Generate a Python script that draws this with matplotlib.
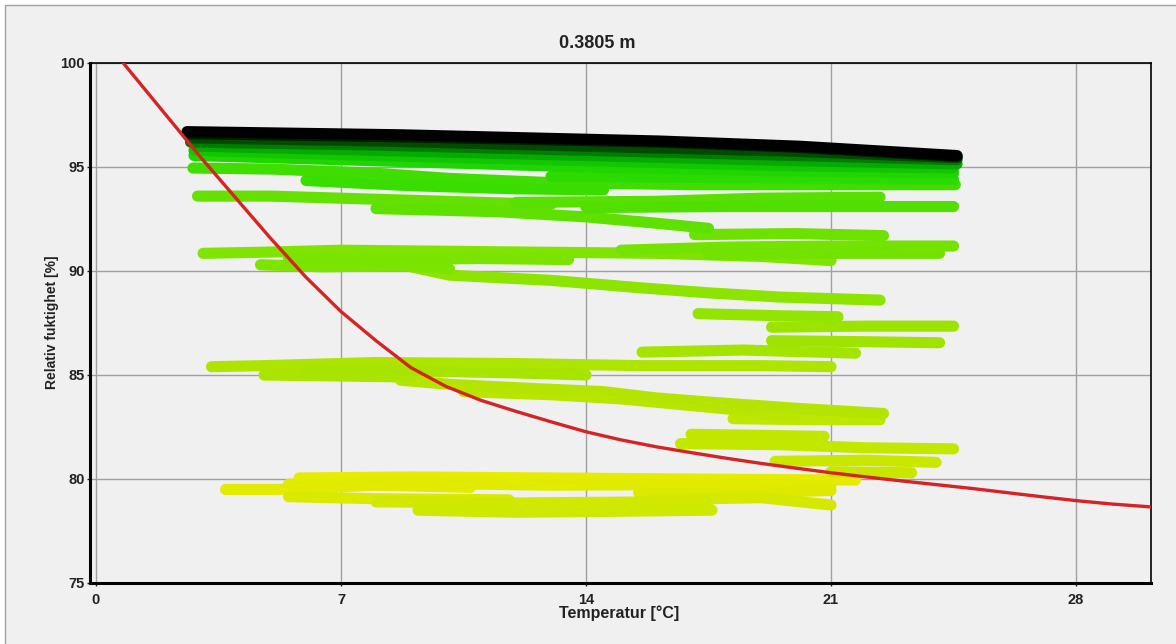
import matplotlib
matplotlib.use("Agg")
import matplotlib.pyplot as plt
from matplotlib.colors import LinearSegmentedColormap
from matplotlib.patches import Rectangle

plt.rcParams['font.family'] = ['Liberation Sans', 'DejaVu Sans']

# critical humidity curve
curve_T = [0.78, 2.0, 3.0, 4.0, 5.0, 6.0, 7.0, 8.0, 9.0, 10.0, 11.0, 12.0, 13.0,
           14.0, 15.0, 16.0, 17.0, 18.0, 19.0, 20.0, 21.0, 22.0, 23.0, 24.0,
           25.0, 26.0, 27.0, 28.0, 29.0, 30.2]
curve_RH = [100.0, 97.5, 95.45, 93.5, 91.55, 89.7, 88.05, 86.65, 85.35, 84.45,
            83.78, 83.25, 82.75, 82.27, 81.88, 81.55, 81.27, 81.0, 80.75, 80.52,
            80.3, 80.1, 79.91, 79.73, 79.55, 79.35, 79.15, 78.96, 78.8, 78.65]

# measured (temperature, RH) tracks in time order; age 0 = first, 1 = last
track_T = [
    [5.8, 9.0, 13.0, 17.0, 21.7],
    [3.7, 5.2, 8.0, 10.7],
    [5.5, 9.0, 13.0, 18.5, 21.0],
    [15.5, 18.0, 21.0],
    [5.5, 8.0, 11.8],
    [15.8, 19.0, 21.0],
    [8.0, 12.0, 16.0, 17.5],
    [9.2, 12.0, 15.0, 17.6],
    [19.4, 22.0, 24.0],
    [21.0, 23.3],
    [16.7, 19.5, 22.0, 24.5],
    [17.0, 19.0, 20.8],
    [18.2, 20.5, 22.4],
    [10.5, 13.0, 15.0, 17.5, 20.0],
    [8.7, 10.1, 12.5, 14.5, 16.0, 17.5, 20.0, 22.5],
    [3.3, 4.8, 8.0, 12.0, 15.6, 19.0, 21.0],
    [4.8, 7.0, 9.0],
    [6.0, 9.0, 12.0, 14.0],
    [15.6, 18.5, 21.7],
    [19.3, 22.0, 24.1],
    [19.3, 22.0, 24.5],
    [17.2, 19.5, 21.2],
    [9.0, 10.1, 13.0, 15.5, 17.5, 19.5, 22.4],
    [3.06, 4.7, 7.0, 10.0, 13.0, 16.0, 19.0, 21.0],
    [4.7, 6.5, 8.8, 10.1],
    [5.5, 8.0, 11.0, 13.5],
    [15.0, 18.0, 21.0, 24.5],
    [17.5, 20.5, 24.1],
    [17.1, 20.0, 22.5],
    [2.9, 5.0, 8.0, 11.0, 13.0],
    [8.0, 11.5, 14.0, 16.0, 17.5],
    [12.0, 16.0, 19.0, 22.4],
    [14.0, 18.0, 21.0, 24.5],
    [2.77, 5.0, 8.0, 10.1, 13.0, 17.0, 21.0, 24.55],
    [6.0, 9.0, 12.0, 14.5],
    [13.0, 17.0, 21.0, 24.5],
    [2.8, 8.0, 14.0, 20.0, 24.5],
    [2.8, 8.0, 14.0, 20.0, 24.5],
    [2.9, 8.0, 14.0, 20.0, 24.6],
    [2.7, 8.0, 14.0, 20.0, 24.6],
    [2.7, 8.0, 14.0, 20.0, 24.6],
    [2.65, 8.7, 16.0, 20.0, 24.6],
    [2.6, 8.7, 16.1, 20.1, 24.6],
]
track_RH = [
    [80.05, 80.1, 80.05, 80.0, 79.95],
    [79.5, 79.5, 79.7, 79.6],
    [79.75, 79.8, 79.7, 79.75, 79.7],
    [79.35, 79.3, 79.45],
    [79.15, 79.05, 79.0],
    [79.0, 79.1, 78.75],
    [78.9, 78.85, 78.9, 78.9],
    [78.5, 78.4, 78.45, 78.5],
    [80.85, 80.9, 80.8],
    [80.35, 80.3],
    [81.7, 81.65, 81.5, 81.45],
    [82.15, 82.1, 82.05],
    [82.9, 82.85, 82.85],
    [84.2, 84.05, 83.85, 83.45, 83.05],
    [84.75, 84.55, 84.35, 84.2, 83.9, 83.7, 83.4, 83.15],
    [85.4, 85.45, 85.6, 85.55, 85.45, 85.45, 85.4],
    [85.0, 84.95, 84.9],
    [85.2, 85.2, 85.1, 85.0],
    [86.1, 86.2, 86.05],
    [86.65, 86.6, 86.55],
    [87.3, 87.35, 87.35],
    [87.95, 87.85, 87.8],
    [90.2, 89.8, 89.55, 89.2, 88.95, 88.75, 88.6],
    [90.85, 90.9, 91.0, 90.95, 90.9, 90.85, 90.7, 90.5],
    [90.3, 90.2, 90.25, 90.1],
    [90.6, 90.55, 90.6, 90.55],
    [91.0, 91.15, 91.2, 91.2],
    [90.8, 90.85, 90.85],
    [91.75, 91.8, 91.7],
    [93.6, 93.6, 93.45, 93.3, 93.2],
    [93.0, 92.85, 92.6, 92.3, 92.05],
    [93.3, 93.35, 93.5, 93.55],
    [93.05, 93.1, 93.1, 93.1],
    [94.95, 94.9, 94.7, 94.45, 94.25, 94.15, 94.15, 94.15],
    [94.35, 94.1, 93.95, 93.9],
    [94.55, 94.5, 94.45, 94.4],
    [95.55, 95.3, 95.0, 94.8, 94.7],
    [95.8, 95.55, 95.3, 95.05, 94.95],
    [96.0, 95.8, 95.55, 95.3, 95.15],
    [96.2, 96.05, 95.8, 95.55, 95.35],
    [96.4, 96.25, 96.0, 95.75, 95.45],
    [96.6, 96.45, 96.2, 95.95, 95.5],
    [96.7, 96.55, 96.25, 96.0, 95.55],
]
track_age = [0.0, 0.02, 0.03, 0.05, 0.07, 0.09, 0.11, 0.12,
             0.16, 0.18, 0.2, 0.22, 0.25, 0.27, 0.29,
             0.32, 0.34, 0.35, 0.37, 0.39, 0.41, 0.43, 0.46,
             0.5, 0.51, 0.52, 0.54, 0.55, 0.57,
             0.6, 0.62, 0.64, 0.66,
             0.7, 0.72, 0.75,
             0.78, 0.82, 0.86, 0.9, 0.93, 0.97, 1.0]

x_ticks = [0, 7, 14, 21, 28]
y_ticks = [75, 80, 85, 90, 95, 100]

cmap = LinearSegmentedColormap.from_list("age", [
    (0.0, "#e6ec00"), (0.12, "#cfe800"), (0.25, "#bde600"), (0.4, "#9ce400"),
    (0.5, "#80e400"), (0.62, "#5ee000"), (0.72, "#3ade00"), (0.8, "#18d400"),
    (0.88, "#00a000"), (0.94, "#004000"), (1.0, "#000000")])

W, H = 1176, 644
fig = plt.figure(figsize=(W / 100, H / 100), dpi=100, facecolor="white")
fig.patches.append(Rectangle((5 / W, -0.02), 1.0, 1.02 - 5 / H, transform=fig.transFigure,
                             facecolor="#f0f0f0", edgecolor="#a0a0a0", lw=1, zorder=-10))

ax = fig.add_axes([90 / W, 1 - 583 / H, (1151 - 90) / W, (583 - 63) / H])
ax.set_facecolor("#f0f0f0")

for T, RH, age in zip(track_T, track_RH, track_age):
    ax.plot(T, RH, color=cmap(age), lw=8, solid_capstyle="round",
            solid_joinstyle="round", zorder=2)

ax.plot(curve_T, curve_RH, color="#d42424", lw=2.4, zorder=3)

ax.set_xlim(-0.17, 30.14)
ax.set_ylim(75, 100)
ax.set_xticks(x_ticks)
ax.set_yticks(y_ticks)
ax.grid(True, color="#a0a0a0", lw=1.0)
ax.set_axisbelow(True)
ax.tick_params(length=2, width=1, colors="#222222", labelsize=10.5, pad=2)
ax.tick_params(axis="x", pad=5)
for lab in ax.get_xticklabels() + ax.get_yticklabels():
    lab.set_fontweight("bold")

for side in ["left", "bottom"]:
    ax.spines[side].set_linewidth(2.2)
for side in ["top", "right"]:
    ax.spines[side].set_linewidth(1.2)

fig.text(597 / W, 1 - 44 / H, "0.3805 m", ha="center", va="center",
         fontsize=13, fontweight="bold", color="#222222")
fig.text(619 / W, 1 - 613 / H, "Temperatur [°C]", ha="center", va="center",
         fontsize=11.5, fontweight="bold", color="#222222")
fig.text(52 / W, 1 - 322 / H, "Relativ fuktighet [%]", ha="center", va="center",
         rotation=90, fontsize=10, fontweight="bold", color="#222222")

fig.savefig("out.png", dpi=100, facecolor=fig.get_facecolor())
